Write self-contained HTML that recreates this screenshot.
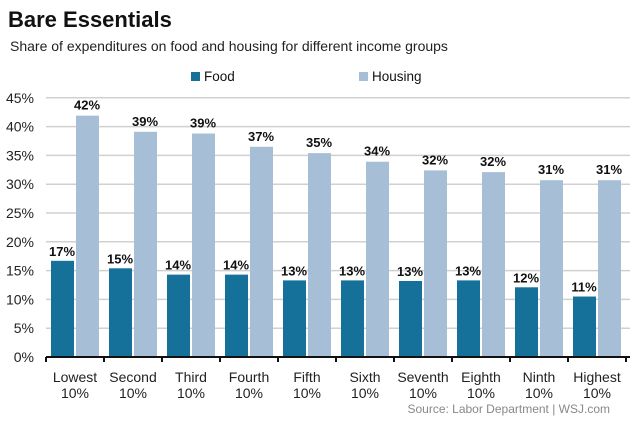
<!DOCTYPE html>
<html><head><meta charset="utf-8"><style>
body{margin:0;background:#fff;font-family:"Liberation Sans",Arial,sans-serif}
svg text{font-family:"Liberation Sans",Arial,sans-serif}
</style></head><body>
<svg id="c" width="640" height="427">
<text x="8" y="27" font-size="22" font-weight="bold" fill="#111">Bare Essentials</text>
<text x="10" y="51" font-size="14" fill="#222">Share of expenditures on food and housing for different income groups</text>
<g>
<rect x="191" y="72" width="9" height="9" fill="#16719a"/>
<text x="204" y="81" font-size="13.5" fill="#111">Food</text>
<rect x="359" y="72" width="9" height="9" fill="#a7bfd6"/>
<text x="372" y="81" font-size="13.5" fill="#111">Housing</text>
</g>
<g id="grid"></g><g id="bars"></g>
<text x="610" y="413" font-size="12" fill="#888" text-anchor="end">Source: Labor Department  |  WSJ.com</text>
</svg>
<script>
const categories=["Lowest","Second","Third","Fourth","Fifth","Sixth","Seventh","Eighth","Ninth","Highest"];
const food=[16.7,15.4,14.3,14.3,13.3,13.3,13.2,13.3,12.1,10.5];
const housing=[41.9,39.1,38.8,36.5,35.4,33.9,32.4,32.1,30.7,30.7];
const foodLabels=["17%","15%","14%","14%","13%","13%","13%","13%","12%","11%"];
const housingLabels=["42%","39%","39%","37%","35%","34%","32%","32%","31%","31%"];
const yTicks=[0,5,10,15,20,25,30,35,40,45];
const NS="http://www.w3.org/2000/svg";
const x0=46,gw=58,y0=357,ppu=5.76;
const y=v=>y0-v*ppu;
const gx=i=>x0+i*gw;
function mk(tag,attrs,parent,txt){const e=document.createElementNS(NS,tag);for(const k in attrs)e.setAttribute(k,attrs[k]);if(txt!==undefined)e.textContent=txt;parent.appendChild(e);return e;}
const grid=document.getElementById('grid'),bars=document.getElementById('bars');
yTicks.forEach(t=>{
 if(t>0){const l=mk('line',{x1:46,x2:630,y1:y(t),y2:y(t),stroke:'#d0d0d0','stroke-width':1.5},grid);
 
 }
 const tx=mk('text',{x:34,y:y(t)+5,'font-size':14,'text-anchor':'end',fill:'#222'},grid,t+'%');
 
 
});
categories.forEach((c,i)=>{
 const fb=mk('rect',{x:gx(i)+5,y:y(food[i]),width:23,height:food[i]*ppu,fill:'#16719a'},bars);
 
 
 const hb=mk('rect',{x:gx(i)+30,y:y(housing[i]),width:23,height:housing[i]*ppu,fill:'#a7bfd6'},bars);
 
 
 const fl=mk('text',{x:gx(i)+16,y:y(food[i])-5,'font-size':13,'font-weight':'bold','text-anchor':'middle',fill:'#111'},bars,foodLabels[i]);
 
 
 const hl=mk('text',{x:gx(i)+41,y:y(housing[i])-6,'font-size':13,'font-weight':'bold','text-anchor':'middle',fill:'#111'},bars,housingLabels[i]);
 
 
 const cl=mk('text',{x:gx(i)+29,y:y0+25,'font-size':14,'text-anchor':'middle',fill:'#222'},bars,c);
 
 
 const cl2=mk('text',{x:gx(i)+29,y:y0+41,'font-size':14,'text-anchor':'middle',fill:'#222'},bars,'10%');
 
 
});
const ax=mk('line',{x1:46,x2:630,y1:y0,y2:y0,stroke:'#111','stroke-width':2},bars);


for(let i=0;i<=categories.length;i++){const tk=mk('line',{x1:gx(i),x2:gx(i),y1:y0,y2:y0+5,stroke:'#111','stroke-width':2},bars);
 
 }
</script>
</body></html>
